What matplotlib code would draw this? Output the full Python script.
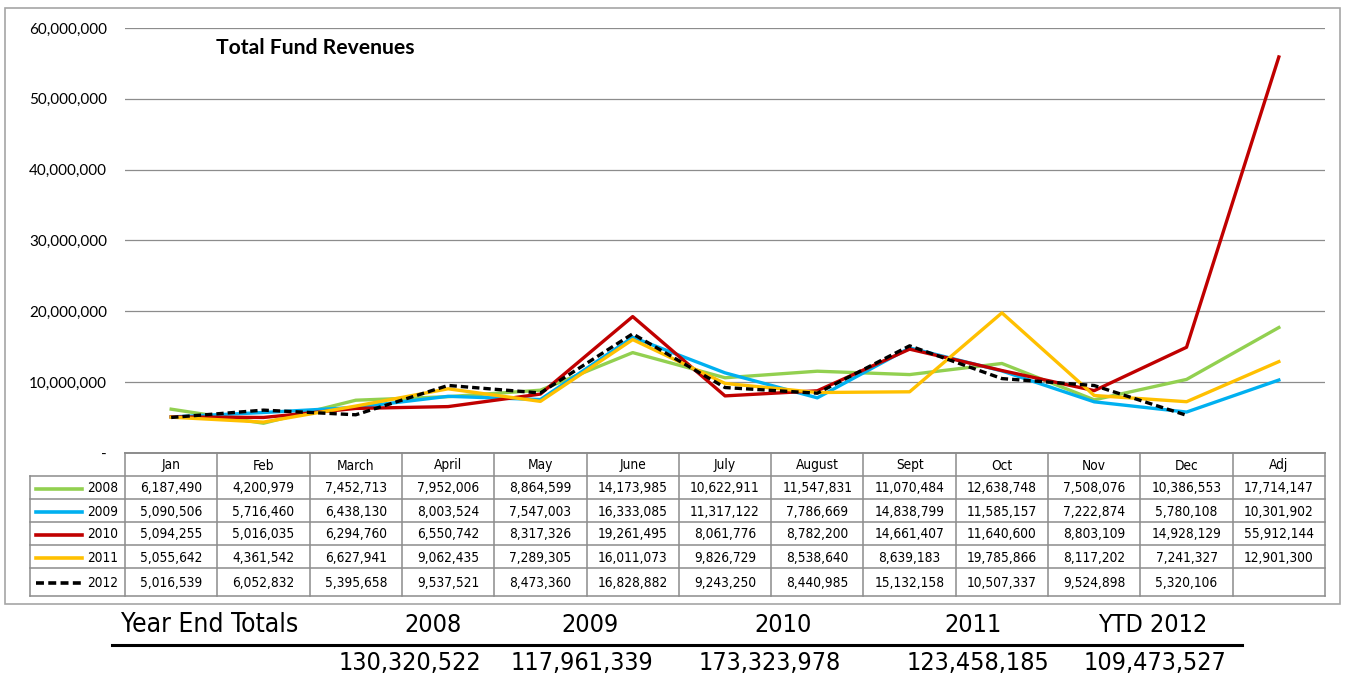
import matplotlib
matplotlib.use("Agg")
import matplotlib.pyplot as plt
from matplotlib.ticker import FuncFormatter
from matplotlib import font_manager as fm

months = ["Jan", "Feb", "March", "April", "May", "June", "July", "August",
          "Sept", "Oct", "Nov", "Dec", "Adj"]
years = ["2008", "2009", "2010", "2011", "2012"]

rev_2008 = [6187490, 4200979, 7452713, 7952006, 8864599, 14173985, 10622911,
            11547831, 11070484, 12638748, 7508076, 10386553, 17714147]
rev_2009 = [5090506, 5716460, 6438130, 8003524, 7547003, 16333085, 11317122,
            7786669, 14838799, 11585157, 7222874, 5780108, 10301902]
rev_2010 = [5094255, 5016035, 6294760, 6550742, 8317326, 19261495, 8061776,
            8782200, 14661407, 11640600, 8803109, 14928129, 55912144]
rev_2011 = [5055642, 4361542, 6627941, 9062435, 7289305, 16011073, 9826729,
            8538640, 8639183, 19785866, 8117202, 7241327, 12901300]
rev_2012 = [5016539, 6052832, 5395658, 9537521, 8473360, 16828882, 9243250,
            8440985, 15132158, 10507337, 9524898, 5320106]

total_labels = ["2008", "2009", "2010", "2011", "YTD 2012"]
total_values = [130320522, 117961339, 173323978, 123458185, 109473527]

series = [rev_2008, rev_2009, rev_2010, rev_2011, rev_2012]
colors = ["#92D050", "#00B0F0", "#C00000", "#FFC000", "#000000"]
styles = ["-", "-", "-", "-", "--"]


def narrow_font():
    """Pick a condensed sans-serif face if one is installed."""
    entries = fm.fontManager.ttflist
    for e in entries:
        if e.name == "Liberation Sans Narrow" and e.style == "normal" and e.weight in (400, "normal"):
            return fm.FontProperties(fname=e.fname), True
    for e in entries:
        if e.name == "DejaVu Sans" and "condensed" in str(e.stretch) and e.style == "normal" \
                and e.weight in (400, "normal"):
            return fm.FontProperties(fname=e.fname), True
    return fm.FontProperties(family="Liberation Sans"), False


narrow_fp, is_narrow = narrow_font()
tickfont = ["Lato", "Open Sans", "DejaVu Sans"]
table_size = 9.8 if is_narrow else 9.3
big_size = 18 if is_narrow else 16.5
label_size = 19 if is_narrow else 17.5

W, H = 1347, 675
fig = plt.figure(figsize=(W / 100, H / 100), dpi=100)

# plot area
x0, x1 = 125, 1325
y_top, y_bot = 28, 453
ax = fig.add_axes([x0 / W, 1 - y_bot / H, (x1 - x0) / W, (y_bot - y_top) / H])
n = len(months)
ax.set_xlim(-0.5, n - 0.5)
ax.set_ylim(0, 60_000_000)
ax.set_yticks(range(0, 60_000_001, 10_000_000))
ax.yaxis.set_major_formatter(FuncFormatter(lambda v, p: "-" if v == 0 else f"{int(v):,}"))
ax.set_xticks([])
ax.grid(axis="y", color="#8c8c8c", linewidth=0.9)
ax.set_axisbelow(True)
for s in ax.spines.values():
    s.set_visible(False)
ax.tick_params(axis="y", length=0, pad=13, labelsize=11)
for lab in ax.get_yticklabels():
    lab.set_fontfamily(tickfont)
ax.patch.set_alpha(0)

for vals, c, ls in zip(series, colors, styles):
    ax.plot(range(len(vals)), vals, color=c, linestyle=ls, linewidth=2.4,
            dashes=(2.2, 1.2) if ls == "--" else (None, None), zorder=3)

fig.text(216 / W, 1 - 48 / H, "Total Fund Revenues", fontsize=15.2,
         fontweight="bold", family=tickfont, va="center", ha="left")

# overlay in pixel coordinates for frame, data table and totals
ov = fig.add_axes([0, 0, 1, 1])
ov.set_xlim(0, W)
ov.set_ylim(H, 0)
ov.axis("off")
ov.patch.set_alpha(0)

frame = plt.Rectangle((5, 8), 1335, 596, fill=False, edgecolor="#a6a6a6", linewidth=1.2)
ov.add_patch(frame)

grid_c = "#8c8c8c"
col_w = (x1 - x0) / n
leg_x0 = 30
row_tops = [453, 476, 499, 522, 545, 568, 596]

# header row
ov.plot([x0, x1], [row_tops[0], row_tops[0]], color=grid_c, lw=1.4)
for i, m in enumerate(months):
    ov.text(x0 + (i + 0.5) * col_w, (row_tops[0] + row_tops[1]) / 2 + 1, m,
            ha="center", va="center", fontsize=table_size, fontproperties=narrow_fp)
# horizontal lines
for yv in row_tops[1:]:
    ov.plot([leg_x0, x1], [yv, yv], color=grid_c, lw=1.1)
# vertical lines
ov.plot([leg_x0, leg_x0], [row_tops[1], row_tops[-1]], color=grid_c, lw=1.1)
for i in range(n + 1):
    ov.plot([x0 + i * col_w] * 2, [row_tops[0], row_tops[-1]], color=grid_c, lw=1.1)

for r, (yr, vals, c, ls) in enumerate(zip(years, series, colors, styles)):
    yc = (row_tops[r + 1] + row_tops[r + 2]) / 2 + 1
    ov.plot([36, 82], [yc, yc], color=c, linestyle=ls, lw=2.6,
            dashes=(2.2, 1.2) if ls == "--" else (None, None))
    ov.text(118, yc, yr, ha="right", va="center", fontsize=table_size,
            fontproperties=narrow_fp)
    for i, v in enumerate(vals):
        ov.text(x0 + (i + 0.5) * col_w, yc, f"{v:,}", ha="center", va="center",
                fontsize=table_size, fontproperties=narrow_fp)

# year end totals
ov.text(210, 625, "Year End Totals", ha="center", va="center", fontsize=label_size,
        fontproperties=narrow_fp)
head_x = [433, 590, 783, 973, 1153]
val_x = [410, 582, 770, 978, 1155]
for hx, vx, lab, v in zip(head_x, val_x, total_labels, total_values):
    ov.text(hx, 625, lab, ha="center", va="center", fontsize=big_size, fontproperties=narrow_fp)
    ov.text(vx, 663, f"{v:,}", ha="center", va="center", fontsize=big_size,
            fontproperties=narrow_fp)
ov.plot([112, 1242], [645, 645], color="black", lw=2.2)

fig.savefig("out.png", dpi=100, facecolor="white")
